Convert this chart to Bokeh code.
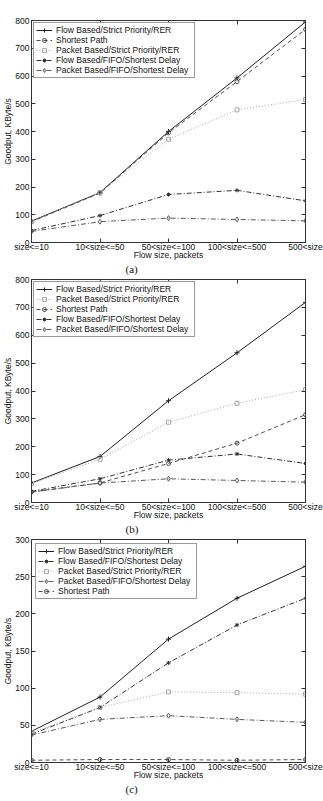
from bokeh.plotting import figure
from bokeh.models import Range1d, FixedTicker, LinearAxis, Legend, LegendItem, Title
from bokeh.layouts import column
from bokeh.embed import file_html
from bokeh.resources import INLINE

# ---------------- data ----------------
categories = ["size<=10", "10<size<=50", "50<size<=100", "100<size<=500", "500<size"]
y_ticks_ab = [0, 100, 200, 300, 400, 500, 600, 700, 800]
y_ticks_c = [0, 50, 100, 150, 200, 250, 300]

FLOW_SP = "Flow Based/Strict Priority/RER"
SHORT = "Shortest Path"
PACK_SP = "Packet Based/Strict Priority/RER"
FLOW_FIFO = "Flow Based/FIFO/Shortest Delay"
PACK_FIFO = "Packet Based/FIFO/Shortest Delay"

# panel (a)
a_flow_sp_rer = [77, 180, 400, 593, 795]
a_shortest = [75, 178, 395, 580, 768]
a_packet_sp_rer = [75, 180, 372, 478, 515]
a_flow_fifo = [43, 97, 173, 188, 150]
a_packet_fifo = [40, 75, 88, 83, 78]

# panel (b)
b_flow_sp_rer = [70, 165, 365, 537, 718]
b_packet_sp_rer = [68, 155, 288, 356, 405]
b_shortest = [38, 70, 140, 213, 315]
b_flow_fifo = [40, 85, 152, 174, 140]
b_packet_fifo = [37, 70, 85, 79, 73]

# panel (c)
c_flow_sp_rer = [42, 88, 166, 221, 264]
c_flow_fifo = [38, 74, 134, 185, 221]
c_packet_sp_rer = [40, 74, 95, 94, 92]
c_packet_fifo = [37, 58, 63, 58, 54]
c_shortest = [3, 4, 4, 3, 4]

FONT = "Liberation Sans"
FS = "8.5px"
AX = "#333333"

STYLE = {
    FLOW_SP: dict(color="#1f1f1f", dash="solid", marker="cross", size=5, fill=None),
    SHORT: dict(color="#4d4d4d", dash="4 3", marker="circle", size=4, fill=None),
    PACK_SP: dict(color="#a8a8a8", dash="1 2", marker="square", size=4, fill=None),
    FLOW_FIFO: dict(color="#333333", dash="5 2 1 2", marker="asterisk", size=4, fill=None),
    PACK_FIFO: dict(color="#5a5a5a", dash="5 2 1 2", marker="diamond", size=5, fill=None),
}


def make_panel(series, yticks, caption, top, fh, bottom, leg_margin):
    xs = list(range(len(categories)))
    p = figure(frame_width=274, frame_height=fh,
               x_range=Range1d(xs[0], xs[-1]), y_range=Range1d(yticks[0], yticks[-1]),
               output_backend="svg", toolbar_location=None,
               min_border_left=28, min_border_right=21,
               min_border_top=top, min_border_bottom=bottom,
               background_fill_color="white", border_fill_color="white")
    p.grid.visible = False
    p.outline_line_color = AX
    p.outline_line_width = 1

    xa = p.xaxis[0]
    xa.ticker = FixedTicker(ticks=xs)
    xa.major_label_overrides = {i: c for i, c in enumerate(categories)}
    xa.axis_label = "Flow size, packets"
    ya = p.yaxis[0]
    ya.ticker = FixedTicker(ticks=yticks)
    ya.axis_label = "Goodput, KByte/s"
    for ax in (xa, ya):
        ax.major_tick_in = 4
        ax.major_tick_out = 0
        ax.minor_tick_line_color = None
        ax.major_tick_line_color = AX
        ax.axis_line_color = AX
        ax.major_label_text_font = FONT
        ax.major_label_text_font_size = FS
        ax.major_label_text_color = "#111111"
        ax.major_label_text_line_height = 1.0
        ax.axis_label_text_font = FONT
        ax.axis_label_text_font_size = FS
        ax.axis_label_text_font_style = "normal"
        ax.axis_label_text_color = "#111111"
        ax.axis_label_text_line_height = 1.0
    xa.major_label_standoff = -1
    xa.axis_label_standoff = -5
    ya.major_label_standoff = 2
    ya.axis_label_standoff = -1

    # mirrored tick marks on top and right (no labels)
    for loc, tk in (("right", yticks), ("above", xs)):
        ex = LinearAxis(ticker=FixedTicker(ticks=tk), major_tick_in=4, major_tick_out=0,
                        minor_tick_line_color=None, major_tick_line_color=AX,
                        axis_line_color=AX, major_label_text_font_size="1px",
                        major_label_text_color=None, major_label_standoff=0)
        p.add_layout(ex, loc)

    items = []
    for label, vals in series:
        st = STYLE[label]
        ln = p.line(xs, vals, line_color=st["color"], line_width=1, line_dash=st["dash"])
        sc = p.scatter(xs, vals, marker=st["marker"], size=st["size"],
                       line_color=st["color"], fill_color=st["fill"], line_width=1)
        items.append(LegendItem(label=label, renderers=[ln, sc]))

    leg = Legend(items=items, location="top_left", margin=leg_margin, padding=2, spacing=0,
                 label_height=10, glyph_height=10, glyph_width=16, label_standoff=4,
                 label_width=136, label_text_font=FONT, label_text_font_size=FS,
                 label_text_color="#111111", label_text_line_height=1.0,
                 border_line_color=AX, border_line_width=1,
                 background_fill_color="white", background_fill_alpha=1.0)
    p.add_layout(leg)

    cap = Title(text=caption, align="left", offset=94, text_font="Liberation Serif",
                text_font_size="11px", text_font_style="normal", text_color="#111111",
                text_line_height=1.0, standoff=-3)
    p.add_layout(cap, "below")
    return p


pa = make_panel([(FLOW_SP, a_flow_sp_rer), (SHORT, a_shortest), (PACK_SP, a_packet_sp_rer),
                 (FLOW_FIFO, a_flow_fifo), (PACK_FIFO, a_packet_fifo)],
                y_ticks_ab, "(a)", 20, 222, 33, 2)
pb = make_panel([(FLOW_SP, b_flow_sp_rer), (PACK_SP, b_packet_sp_rer), (SHORT, b_shortest),
                 (FLOW_FIFO, b_flow_fifo), (PACK_FIFO, b_packet_fifo)],
                y_ticks_ab, "(b)", 4, 223, 33, 2)
pc = make_panel([(FLOW_SP, c_flow_sp_rer), (FLOW_FIFO, c_flow_fifo), (PACK_SP, c_packet_sp_rer),
                 (PACK_FIFO, c_packet_fifo), (SHORT, c_shortest)],
                y_ticks_c, "(c)", 4, 223, 37, 4)

p = column(pa, pb, pc, spacing=0)
open("out.html", "w").write(file_html(p, INLINE))
